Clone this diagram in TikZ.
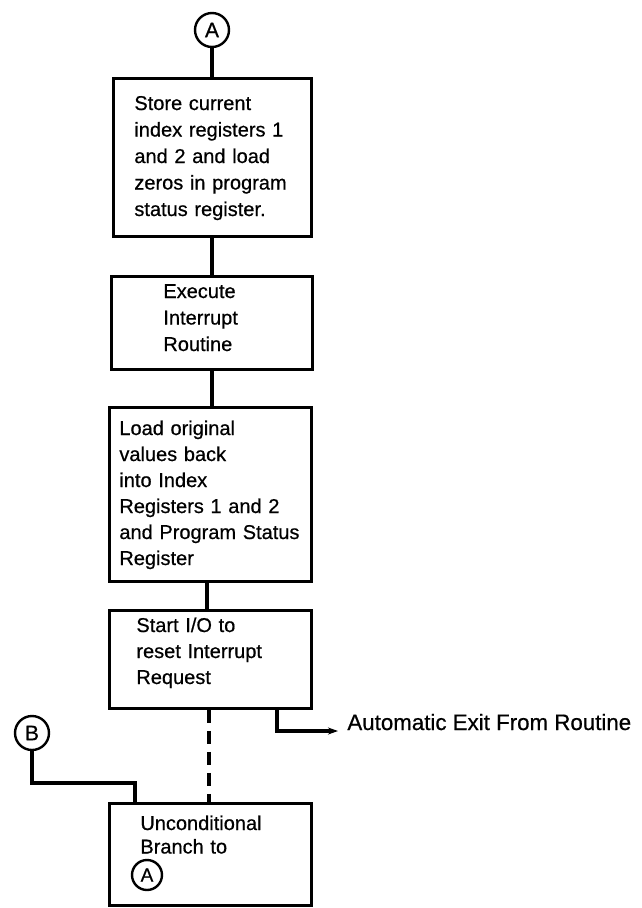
\documentclass[tikz,border=0pt]{standalone}
\usepackage{fontspec}
\setmainfont[FakeBold=0.6,AutoFakeBold=0.6]{Liberation Sans}
\usetikzlibrary{arrows.meta,calc}
\begin{document}
\begin{tikzpicture}[x=1pt,y=-1pt,
  line width=2.8pt,
  box/.style={draw,rectangle,inner sep=0pt,anchor=north west,line width=2.8pt},
  txt/.style={anchor=base west,inner sep=0pt,text width=200pt,align=left,
              font=\bfseries\fontsize{20}{26.5}\selectfont},
  conn/.style={draw,circle,inner sep=0pt,minimum size=34pt,line width=2.4pt,
               font=\bfseries\fontsize{21}{21}\selectfont},
  link/.style={line width=3.4pt},
]
\useasboundingbox (0,0) rectangle (642,908);

% connector A at top
\node[conn] (Atop) at (212,30) {A};

% boxes
\node[box,minimum width=198pt,minimum height=158pt] (b1) at (112,77) {};
\node[box,minimum width=201pt,minimum height=93pt] (b2) at (110,275) {};
\node[box,minimum width=202pt,minimum height=174pt] (b3) at (108,406) {};
\node[box,minimum width=202pt,minimum height=98pt] (b4) at (108,609) {};
\node[box,minimum width=202pt,minimum height=102pt] (b5) at (108,802) {};

% texts
\node[txt] (t1) at (133,110) {Store current\\index registers 1\\and 2 and load\\zeros in program\\status register.};
\node[txt] (t2) at (162,298) {Execute\\Interrupt\\Routine};
\node[txt,font=\bfseries\fontsize{20}{26}\selectfont] (t3) at (118,435) {Load original\\values back\\into Index\\Registers 1 and 2\\and Program Status\\Register};
\node[txt,font=\bfseries\fontsize{20}{26}\selectfont] (t4) at (135,632) {Start I/O to\\reset Interrupt\\Request};
\node[txt,font=\bfseries\fontsize{20}{23.5}\selectfont] (t5) at (139,830) {Unconditional\\Branch to};
\node[conn,minimum size=30pt,font=\bfseries\fontsize{19}{19}\selectfont] (Ain) at (147,875) {A};

% vertical connectors
\draw[link] (Atop.south) -- (Atop.south |- b1.north);
\coordinate (c12) at (212,0);
\draw[link] (c12 |- b1.south) -- (c12 |- b2.north);
\draw[link] (c12 |- b2.south) -- (c12 |- b3.north);
\coordinate (c34) at (207,0);
\draw[link] (c34 |- b3.south) -- (c34 |- b4.north);
\coordinate (c45) at (209,0);
\draw[link,dash pattern=on 13pt off 8pt] (c45 |- b4.south) -- (c45 |- b5.north);

% connector B
\node[conn] (B) at (32,733) {B};
\coordinate (bk) at (135,783);
\draw[link] (B.south) |- (bk) -- (bk |- b5.north);

% automatic exit
\node[anchor=base west,inner sep=0pt,font=\bfseries\fontsize{22.3}{22.3}\selectfont] (exit) at (346,730) {Automatic Exit From Routine};
\coordinate (ex) at (277,731);
\draw[link,-{Stealth[length=10pt,width=7pt]}] (ex |- b4.south) -- (ex) -- (338,731);
\end{tikzpicture}
\end{document}
